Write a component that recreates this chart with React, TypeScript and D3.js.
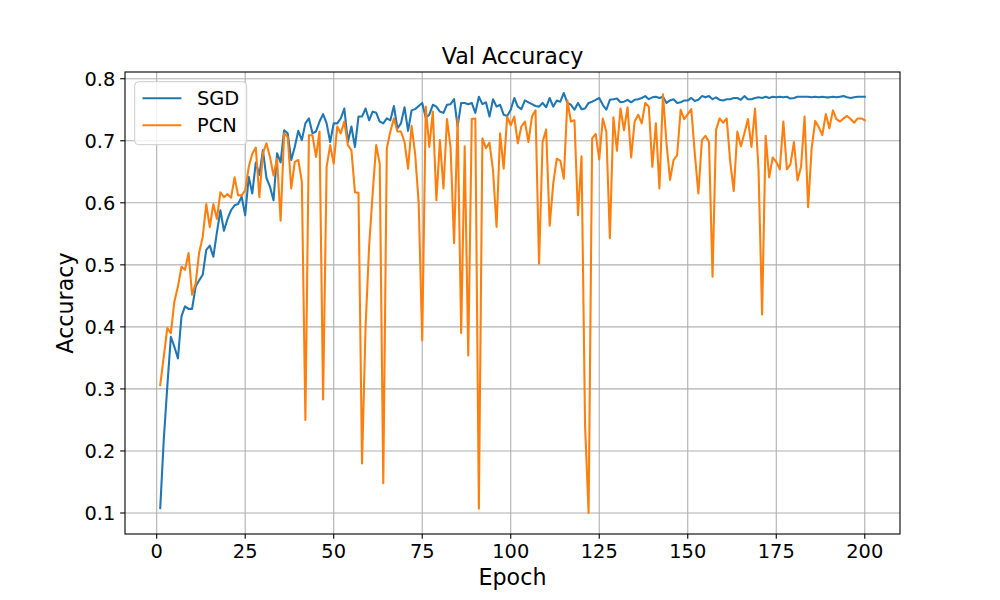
import React from "react";
import * as d3 from "d3";

// Validation accuracy per epoch (epoch 1..200)
const sgdAcc: number[] = [
  0.108, 0.218, 0.304, 0.384, 0.368, 0.349, 0.417, 0.433, 0.429, 0.429,
  0.465, 0.475, 0.484, 0.524, 0.531, 0.513, 0.552, 0.588, 0.555, 0.574,
  0.588, 0.596, 0.598, 0.610, 0.580, 0.642, 0.615, 0.665, 0.645, 0.685,
  0.640, 0.626, 0.604, 0.680, 0.665, 0.717, 0.712, 0.669, 0.690, 0.716,
  0.701, 0.728, 0.736, 0.712, 0.715, 0.731, 0.743, 0.728, 0.698, 0.728,
  0.728, 0.736, 0.752, 0.698, 0.723, 0.690, 0.739, 0.739, 0.752, 0.733,
  0.747, 0.745, 0.731, 0.728, 0.736, 0.733, 0.756, 0.720, 0.728, 0.754,
  0.716, 0.749, 0.751, 0.756, 0.761, 0.737, 0.742, 0.758, 0.755, 0.747,
  0.745, 0.758, 0.759, 0.767, 0.723, 0.761, 0.761, 0.759, 0.761, 0.745,
  0.771, 0.759, 0.762, 0.739, 0.767, 0.755, 0.758, 0.742, 0.740, 0.750,
  0.769, 0.755, 0.751, 0.765, 0.762, 0.759, 0.756, 0.755, 0.761, 0.754,
  0.769, 0.755, 0.765, 0.763, 0.777, 0.761, 0.758, 0.750, 0.761, 0.751,
  0.752, 0.761, 0.763, 0.766, 0.769, 0.758, 0.750, 0.766, 0.767, 0.768,
  0.762, 0.763, 0.766, 0.762, 0.766, 0.767, 0.769, 0.772, 0.767, 0.770,
  0.771, 0.769, 0.771, 0.761, 0.765, 0.767, 0.761, 0.762, 0.765, 0.765,
  0.769, 0.764, 0.766, 0.772, 0.770, 0.772, 0.767, 0.770, 0.766, 0.765,
  0.767, 0.767, 0.769, 0.769, 0.766, 0.772, 0.767, 0.767, 0.769, 0.770,
  0.769, 0.771, 0.769, 0.771, 0.770, 0.771, 0.770, 0.771, 0.768, 0.769,
  0.771, 0.771, 0.771, 0.771, 0.770, 0.771, 0.770, 0.771, 0.770, 0.770,
  0.771, 0.770, 0.771, 0.772, 0.770, 0.769, 0.770, 0.771, 0.771, 0.771,
];

const pcnAcc: number[] = [
  0.306, 0.352, 0.398, 0.390, 0.441, 0.465, 0.497, 0.492, 0.519, 0.452,
  0.470, 0.520, 0.545, 0.598, 0.561, 0.598, 0.574, 0.617, 0.609, 0.614,
  0.608, 0.641, 0.612, 0.612, 0.620, 0.658, 0.679, 0.689, 0.609, 0.680,
  0.696, 0.674, 0.644, 0.671, 0.571, 0.712, 0.706, 0.623, 0.666, 0.669,
  0.634, 0.250, 0.709, 0.709, 0.674, 0.715, 0.283, 0.658, 0.693, 0.663,
  0.723, 0.712, 0.731, 0.693, 0.685, 0.617, 0.616, 0.180, 0.400, 0.530,
  0.615, 0.693, 0.663, 0.148, 0.688, 0.715, 0.736, 0.715, 0.715, 0.698,
  0.655, 0.724, 0.679, 0.600, 0.378, 0.755, 0.690, 0.747, 0.604, 0.701,
  0.623, 0.735, 0.690, 0.535, 0.736, 0.390, 0.691, 0.354, 0.735, 0.736,
  0.107, 0.704, 0.688, 0.697, 0.652, 0.561, 0.712, 0.655, 0.739, 0.725,
  0.739, 0.696, 0.723, 0.731, 0.698, 0.739, 0.749, 0.502, 0.698, 0.718,
  0.563, 0.631, 0.671, 0.668, 0.639, 0.765, 0.731, 0.733, 0.580, 0.675,
  0.240, 0.100, 0.704, 0.711, 0.670, 0.736, 0.715, 0.543, 0.738, 0.684,
  0.752, 0.717, 0.754, 0.673, 0.731, 0.742, 0.728, 0.761, 0.755, 0.658,
  0.728, 0.623, 0.775, 0.696, 0.637, 0.669, 0.677, 0.750, 0.735, 0.743,
  0.751, 0.679, 0.615, 0.701, 0.708, 0.698, 0.481, 0.718, 0.736, 0.729,
  0.736, 0.666, 0.619, 0.715, 0.691, 0.712, 0.735, 0.690, 0.752, 0.652,
  0.420, 0.708, 0.641, 0.673, 0.666, 0.654, 0.731, 0.654, 0.662, 0.698,
  0.636, 0.658, 0.739, 0.593, 0.688, 0.732, 0.722, 0.709, 0.743, 0.720,
  0.749, 0.735, 0.731, 0.736, 0.740, 0.735, 0.729, 0.736, 0.736, 0.733,
];

const xTicks = [0, 25, 50, 75, 100, 125, 150, 175, 200];
const yTicks = [0.1, 0.2, 0.3, 0.4, 0.5, 0.6, 0.7, 0.8];
const seriesNames = ["SGD", "PCN"];
const seriesColors = ["#1f77b4", "#ff7f0e"];

const FONT = "DejaVu Sans, Verdana, sans-serif";

export default function App() {
  const W = 1000;
  const H = 600;
  const left = 125;
  const right = 900;
  const top = 72;
  const bottom = 534;

  const n = sgdAcc.length;
  const xPad = (n - 1) * 0.05;
  const x = d3.scaleLinear().domain([1 - xPad, n + xPad]).range([left, right]);

  const [lo, hi] = d3.extent([...sgdAcc, ...pcnAcc]) as [number, number];
  const yPad = (hi - lo) * 0.05;
  const y = d3.scaleLinear().domain([lo - yPad, hi + yPad]).range([bottom, top]);

  const line = d3
    .line<number>()
    .x((_, i) => x(i + 1))
    .y((d) => y(d));

  const series = [sgdAcc, pcnAcc];
  const tickFont = 19.4;
  const labelFont = 22.2;
  const tickLen = 4.86;
  const thin = 1.1;
  const lineW = 2.08;

  // legend layout
  const legX = left + 9.7;
  const legY = top + 9.7;
  const legW = 112;
  const legH = 63;
  const rowY = [legY + 16.5, legY + 43.5];

  return (
    <svg
      width={W}
      height={H}
      style={{ position: "absolute", left: 0, top: 0, background: "#fff" }}
      fontFamily={FONT}
    >
      <rect x={0} y={0} width={W} height={H} fill="#fff" />
      <defs>
        <clipPath id="plotArea">
          <rect x={left} y={top} width={right - left} height={bottom - top} />
        </clipPath>
      </defs>

      {/* grid */}
      <g stroke="#b0b0b0" strokeWidth={thin}>
        {xTicks.map((t) => (
          <line key={"gx" + t} x1={x(t)} x2={x(t)} y1={top} y2={bottom} />
        ))}
        {yTicks.map((t) => (
          <line key={"gy" + t} x1={left} x2={right} y1={y(t)} y2={y(t)} />
        ))}
      </g>

      {/* series */}
      <g clipPath="url(#plotArea)">
        {series.map((s, i) => (
          <path
            key={seriesNames[i]}
            d={line(s) || ""}
            fill="none"
            stroke={seriesColors[i]}
            strokeWidth={lineW}
            strokeLinejoin="round"
            strokeLinecap="square"
          />
        ))}
      </g>

      {/* axes frame */}
      <rect
        x={left}
        y={top}
        width={right - left}
        height={bottom - top}
        fill="none"
        stroke="#000"
        strokeWidth={thin}
      />

      {/* x ticks */}
      <g>
        {xTicks.map((t) => (
          <g key={"xt" + t}>
            <line x1={x(t)} x2={x(t)} y1={bottom} y2={bottom + tickLen} stroke="#000" strokeWidth={thin} />
            <text x={x(t)} y={bottom + 23.5} textAnchor="middle" fontSize={tickFont} fill="#000">
              {t}
            </text>
          </g>
        ))}
      </g>

      {/* y ticks */}
      <g>
        {yTicks.map((t) => (
          <g key={"yt" + t}>
            <line x1={left - tickLen} x2={left} y1={y(t)} y2={y(t)} stroke="#000" strokeWidth={thin} />
            <text x={left - 9.7} y={y(t) + 7} textAnchor="end" fontSize={tickFont} fill="#000">
              {t.toFixed(1)}
            </text>
          </g>
        ))}
      </g>

      {/* labels */}
      <text x={(left + right) / 2} y={64} textAnchor="middle" fontSize={labelFont} fill="#000">
        Val Accuracy
      </text>
      <text x={(left + right) / 2} y={585} textAnchor="middle" fontSize={labelFont} fill="#000">
        Epoch
      </text>
      <text
        transform={`translate(73, ${(top + bottom) / 2}) rotate(-90)`}
        textAnchor="middle"
        fontSize={labelFont}
        fill="#000"
      >
        Accuracy
      </text>

      {/* legend */}
      <g>
        <rect
          x={legX}
          y={legY}
          width={legW}
          height={legH}
          rx={4}
          fill="#fff"
          fillOpacity={0.8}
          stroke="#cccccc"
          strokeWidth={1}
        />
        {seriesNames.map((name, i) => (
          <g key={"leg" + name}>
            <line
              x1={legX + 7.8}
              x2={legX + 7.8 + 38.9}
              y1={rowY[i]}
              y2={rowY[i]}
              stroke={seriesColors[i]}
              strokeWidth={lineW}
            />
            <text x={legX + 62.3} y={rowY[i] + 7} fontSize={tickFont} fill="#000">
              {name}
            </text>
          </g>
        ))}
      </g>
    </svg>
  );
}
